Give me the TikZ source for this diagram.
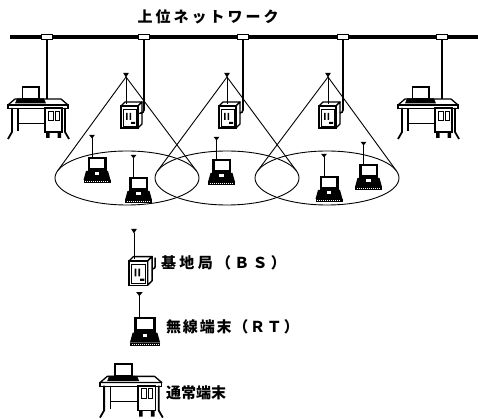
\documentclass[tikz,border=0pt]{standalone}
\usepackage{fontspec}
\usepackage{tikz}
\usetikzlibrary{calc}
\newfontfamily\jp{Noto Sans CJK JP}
\tikzset{>=stealth}
\tikzset{
  cable/.style={line width=1.6pt},
  cell/.style={line width=0.9pt},
  tap/.style={draw, line width=0.6pt, fill=white, minimum width=11pt, minimum height=5pt, inner sep=0pt},
  lbl/.style={font=\jp\bfseries\fontsize{15}{15}\selectfont, inner sep=0pt},
  ant/.pic={\fill (-2.8,-4) -- (2.8,-4) -- (0,0.5) -- cycle;},
  rt/.pic={
    \draw[line width=0.9pt] (-5,-25) -- (-5,-46);
    \fill (-7.8,-48) -- (-2.2,-48) -- (-5,-44.5) -- cycle;
    \fill (-9.5,-26) rectangle (9.5,-12);
    \fill[white] (-7,-24) rectangle (7,-15);
    \fill (-11,-12) -- (11,-12) -- (13.5,-3) -- (-13.5,-3) -- cycle;
    \fill[white] (-2.2,-11) rectangle (2.2,-8);
    \fill (-13.5,-3) rectangle (13.5,0);
    \draw[white, line width=0.5pt, dash pattern=on 1pt off 1pt] (-12,-1.5) -- (12,-1.5);
  },
  bs/.pic={
    \filldraw[fill=white, line width=1.4pt, line join=round] (0,0) -- (4,-4) -- (21,-4) -- (17,0) -- cycle;
    \filldraw[fill=white, line width=1.4pt, line join=round] (17,0) -- (21,-4) -- (21,18) -- (17,22) -- cycle;
    \filldraw[fill=white, line width=1.4pt] (0,0) rectangle (17,22);
    \draw[line width=0.5pt] (2,3) rectangle (15,20);
    \fill (5,7) rectangle (6.6,14) (8.6,7) rectangle (10.2,14) (10,16) rectangle (14,18);
    \coordinate (-top) at (6,-2);
    \coordinate (-side) at (21,7);
  },
  desk/.pic={
    % table top
    \draw[line width=1.3pt, line join=round] (7,13) -- (53,13) -- (60,19) -- (0,19) -- cycle;
    \draw[line width=1.3pt] (0,19) rectangle (60,22.5);
    % keyboard and monitor
    \fill (9,12.5) -- (36,12.5) -- (38,17.5) -- (7,17.5) -- cycle;
    \draw[line width=1.8pt, fill=white] (14.5,1) rectangle (31,12.5);
    % legs
    \draw[line width=1.8pt] (4,22) -- (4,46) -- (0,53);
    \draw[line width=1.2pt] (10,22) -- (10,45);
    \draw[line width=0.8pt] (10,37) -- (37,37);
    \draw[line width=1.8pt] (57,22) -- (57,46) -- (61,53);
    % drawers
    \draw[line width=1.3pt] (37,22) rectangle (54,46);
    \draw[line width=0.8pt] (40,25) rectangle (45,34) (47,25) rectangle (51,34);
    \fill (38,46) rectangle (41.5,52) (49.5,46) rectangle (53,52);
    \coordinate (-top) at (38,13);
  }
}

\begin{document}
\begin{tikzpicture}[x=1pt,y=-1pt]
  \useasboundingbox (0,0) rectangle (478,419);

  % backbone
  \node[lbl] (title) at (208,17) {\addfontfeatures{LetterSpace=20}上位ネットワーク};
  \draw[line width=4pt] (10,37) -- (478,37);
  \foreach \n/\x in {1/47,2/144,3/243,4/343,5/442}
    \node[tap] (tap\n) at (\x,37) {};

  % wired terminals
  \pic (desk1) at (8,86) {desk};
  \pic (desk2) at (398,86) {desk};
  \draw[cable] (tap1) -- (tap1 |- desk1-top);
  \draw[cable] (tap5) -- (tap5 |- desk2-top);

  % cells
  \foreach \n/\x in {1/127,2/227,3/327}
    \coordinate (e\n) at (\x,178);
  \foreach \n/\x in {1/126,2/227,3/328}
    \coordinate (apex\n) at (\x,77);
  \foreach \n in {1,2,3} {
    \draw[cell] (e\n) ellipse [x radius=72, y radius=27];
    \draw[cell] ($(e\n)+(-69.4,-7.2)$) -- (apex\n) -- ($(e\n)+(69.4,-7.2)$);
  }

  % base stations
  \pic (bs1) at (121,106) {bs};
  \pic (bs2) at (219,106) {bs};
  \pic (bs3) at (319,106) {bs};
  \foreach \n/\t in {1/2,2/3,3/4} {
    \draw[line width=0.9pt] (apex\n) -- (apex\n |- bs\n-top);
    \pic at (apex\n) {ant};
    \draw[cable, rounded corners=3pt] (tap\t) -- (tap\t |- bs\n-side) -- (bs\n-side);
  }

  % radio terminals
  \pic at (97,183) {rt};
  \pic at (138.5,203) {rt};
  \pic at (221.5,185) {rt};
  \pic at (329,202) {rt};
  \pic at (368.5,190) {rt};

  % legend
  \pic[scale=1.1] (bsL) at (129,261) {bs};
  \coordinate (antL) at (134,233);
  \draw[line width=0.9pt] (antL) -- (antL |- bsL-top);
  \pic at (antL) {ant};
  \draw[cable, rounded corners=2pt] (bsL-side) -| ++(3,-11);
  \node[lbl, anchor=west] (bsT) at (161,263) {\addfontfeatures{LetterSpace=22}基地局（ＢＳ）};

  \pic[scale=1.12] at (145,346) {rt};
  \node[lbl, anchor=west] (rtT) at (166,327) {\addfontfeatures{LetterSpace=12}無線端末（ＲＴ）};

  \pic[scale=1.03] at (100,363) {desk};
  \node[lbl, anchor=west] (deskT) at (166,393) {通常端末};
\end{tikzpicture}
\end{document}
